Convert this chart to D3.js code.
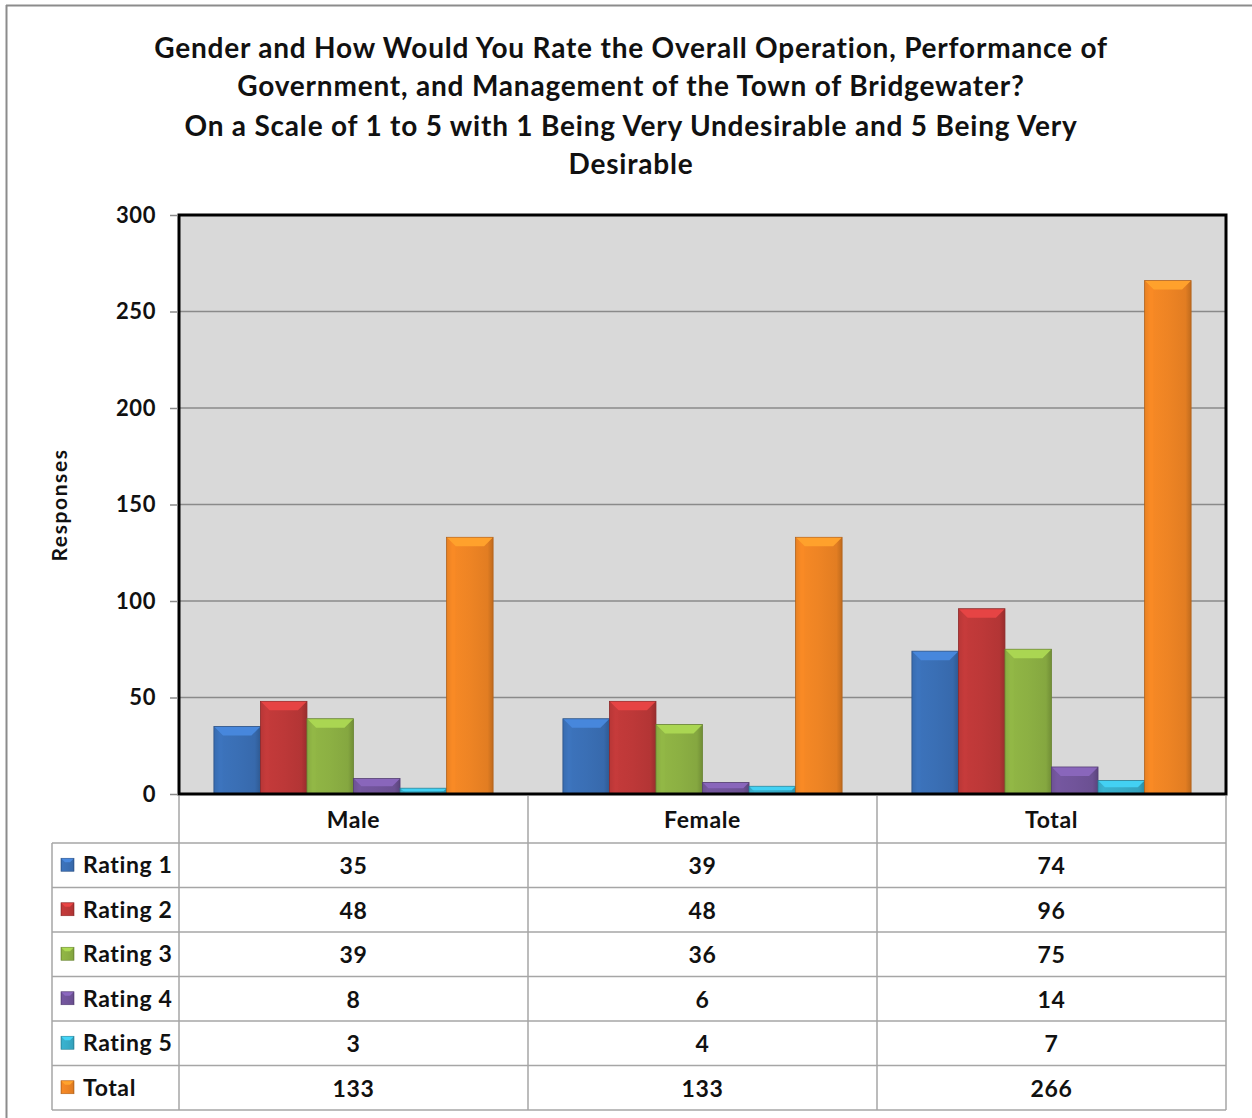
<!DOCTYPE html>
<html><head><meta charset="utf-8">
<script src="https://cdn.jsdelivr.net/npm/d3@7"></script>
<style>html,body{margin:0;padding:0;background:#fff;}svg{display:block;}</style>
</head><body>
<svg id="chart" width="1252" height="1118"></svg>
<script>
const titleLines = [
  "Gender and How Would You Rate the Overall Operation, Performance of",
  "Government, and Management of the Town of Bridgewater?",
  "On a Scale of 1 to 5 with 1 Being Very Undesirable and 5 Being Very",
  "Desirable"
];
const categories = ["Male", "Female", "Total"];
const seriesNames = ["Rating 1", "Rating 2", "Rating 3", "Rating 4", "Rating 5", "Total"];
const rating1 = [35, 39, 74];
const rating2 = [48, 48, 96];
const rating3 = [39, 36, 75];
const rating4 = [8, 6, 14];
const rating5 = [3, 4, 7];
const totals = [133, 133, 266];
const yTicks = [0, 50, 100, 150, 200, 250, 300];
const yLabel = "Responses";
const colors = ["#3a6fb5", "#bd3838", "#8cb043", "#71549a", "#37acc8", "#ee8424"];

const seriesValues = [rating1, rating2, rating3, rating4, rating5, totals];

const svg = d3.select("#chart");
const FONT = "Lato, 'Open Sans', sans-serif";
const L = 179, R = 1226, T = 215, B = 794;

// outer frame
svg.append("line").attr("x1", 6.5).attr("x2", 6.5).attr("y1", 5).attr("y2", 1118).attr("stroke", "#8c8c8c").attr("stroke-width", 2);
svg.append("line").attr("x1", 6).attr("x2", 1252).attr("y1", 5.5).attr("y2", 5.5).attr("stroke", "#8c8c8c").attr("stroke-width", 2);

// title
svg.append("g").selectAll("text").data(titleLines).join("text")
  .attr("x", 631).attr("y", (d, i) => [47, 85, 125, 163][i])
  .attr("text-anchor", "middle").attr("dominant-baseline", "central")
  .attr("font-family", FONT).attr("font-weight", "bold").attr("font-size", 28)
  .attr("letter-spacing", 0.8)
  .attr("fill", "#111").text(d => d);

const x0 = d3.scaleBand().domain(categories).range([L, R]).paddingInner(0).paddingOuter(0);
const x1 = d3.scaleBand().domain(seriesNames)
  .range([x0.bandwidth() * 0.1, x0.bandwidth() * 0.9]).padding(0);
const y = d3.scaleLinear().domain([0, 300]).range([B, T]);

// plot background
svg.append("rect").attr("x", L).attr("y", T).attr("width", R - L).attr("height", B - T).attr("fill", "#d9d9d9");

// gridlines
svg.append("g").selectAll("line").data(yTicks.filter(d => d > 0)).join("line")
  .attr("x1", L).attr("x2", R).attr("y1", d => y(d)).attr("y2", d => y(d))
  .attr("stroke", "#8a8a8a").attr("stroke-width", 1.5);

// gradients
const defs = svg.append("defs");
colors.forEach((c, i) => {
  const g = defs.append("linearGradient").attr("id", "grad" + i).attr("x1", "0").attr("x2", "1").attr("y1", "0").attr("y2", "0");
  const base = d3.color(c);
  g.append("stop").attr("offset", "0%").attr("stop-color", base.darker(0.35));
  g.append("stop").attr("offset", "12%").attr("stop-color", base.brighter(0.1));
  g.append("stop").attr("offset", "50%").attr("stop-color", base);
  g.append("stop").attr("offset", "88%").attr("stop-color", base.darker(0.15));
  g.append("stop").attr("offset", "100%").attr("stop-color", base.darker(0.6));
});

// bars
const flat = [];
categories.forEach((cat, ci) => {
  seriesNames.forEach((s, si) => flat.push({cat, s, si, v: seriesValues[si][ci]}));
});
const barG = svg.append("g").selectAll("g").data(flat).join("g")
  .attr("transform", d => `translate(${x0(d.cat) + x1(d.s)},0)`);
const bw = x1.bandwidth();
barG.append("rect")
  .attr("x", 0).attr("width", bw)
  .attr("y", d => y(d.v)).attr("height", d => B - y(d.v))
  .attr("fill", d => `url(#grad${d.si})`)
  .attr("stroke", d => d3.color(colors[d.si]).darker(0.8)).attr("stroke-width", 0.8);
barG.append("path")
  .attr("d", d => {
    const top = y(d.v), h = Math.min(9, (B - top) / 2), ins = Math.min(9, h);
    return `M0.5,${top + 0.5} L${bw - 0.5},${top + 0.5} L${bw - ins},${top + h} L${ins},${top + h} Z`;
  })
  .attr("fill", d => d3.color(colors[d.si]).brighter(0.55));
barG.append("path")
  .attr("d", d => {
    const top = y(d.v), h = Math.min(9, (B - top) / 2), ins = Math.min(9, h);
    return `M0.5,${top + 0.5} L${ins},${top + h} L${ins},${B - 1} L0.5,${B - 1} Z`;
  })
  .attr("fill", d => d3.color(colors[d.si]).brighter(0.15)).attr("opacity", 0.5);

// frame
svg.append("path").attr("d", `M${L},${B} L${L},${T} L${R},${T} L${R},${B} Z`)
  .attr("fill", "none").attr("stroke", "#000").attr("stroke-width", 3);

// y axis ticks & labels
const yAxis = d3.axisLeft(y).tickValues(yTicks).tickSize(8).tickPadding(14);
const ax = svg.append("g").attr("transform", `translate(${L - 1},0)`).call(yAxis);
ax.select(".domain").remove();
ax.selectAll(".tick line").attr("stroke", "#8a8a8a").attr("stroke-width", 1.5);
ax.selectAll(".tick text").attr("font-family", FONT).attr("font-weight", "bold").attr("font-size", 22)
  .attr("letter-spacing", 0.6).attr("fill", "#111");

svg.append("text").attr("transform", "translate(58,505) rotate(-90)")
  .attr("text-anchor", "middle").attr("dominant-baseline", "central")
  .attr("font-family", FONT).attr("font-weight", "bold").attr("font-size", 21)
  .attr("letter-spacing", 1.6).attr("fill", "#111").text(yLabel);

// data table
const headerTop = B, headerBot = 843, tableBot = 1110, legL = 52;
const rowH = (tableBot - headerBot) / seriesNames.length;
const rowY = i => headerBot + i * rowH;
const tbl = svg.append("g");
const gridC = "#a6a6a6";
tbl.selectAll("line.h").data(d3.range(seriesNames.length + 1)).join("line").attr("class", "h")
  .attr("x1", legL).attr("x2", R).attr("y1", i => rowY(i)).attr("y2", i => rowY(i))
  .attr("stroke", gridC).attr("stroke-width", 1.5);
const colEdges = [L, x0("Female"), x0("Total"), R];
tbl.selectAll("line.v").data(colEdges).join("line").attr("class", "v")
  .attr("x1", d => d).attr("x2", d => d).attr("y1", headerTop + 2).attr("y2", tableBot)
  .attr("stroke", gridC).attr("stroke-width", 1.5);
tbl.append("line").attr("x1", legL).attr("x2", legL).attr("y1", headerBot).attr("y2", tableBot)
  .attr("stroke", gridC).attr("stroke-width", 1.5);
const cellFont = 23;
tbl.selectAll("text.hd").data(categories).join("text").attr("class", "hd")
  .attr("x", d => x0(d) + x0.bandwidth() / 2).attr("y", (headerTop + headerBot) / 2)
  .attr("text-anchor", "middle").attr("dominant-baseline", "central")
  .attr("font-family", FONT).attr("font-weight", "bold").attr("font-size", cellFont)
  .attr("letter-spacing", 0.6).attr("fill", "#111").text(d => d);
seriesNames.forEach((s, si) => {
  const cy = rowY(si) + rowH / 2;
  const key = tbl.append("g").attr("transform", `translate(61,${cy - 7})`);
  key.append("rect").attr("width", 13).attr("height", 13).attr("fill", `url(#grad${si})`)
    .attr("stroke", d3.color(colors[si]).darker(0.8)).attr("stroke-width", 0.6);
  key.append("path").attr("d", "M0.5,0.5 L12.5,0.5 L9,4 L4,4 Z").attr("fill", d3.color(colors[si]).brighter(0.6));
  tbl.append("text").attr("x", 83).attr("y", cy - 1)
    .attr("dominant-baseline", "central")
    .attr("font-family", FONT).attr("font-weight", "bold").attr("font-size", cellFont)
    .attr("letter-spacing", 0.6).attr("fill", "#111").text(s);
  tbl.selectAll(null).data(categories).join("text")
    .attr("x", d => x0(d) + x0.bandwidth() / 2).attr("y", cy)
    .attr("text-anchor", "middle").attr("dominant-baseline", "central")
    .attr("font-family", FONT).attr("font-weight", "bold").attr("font-size", cellFont)
    .attr("letter-spacing", 0.6).attr("fill", "#111")
    .text((d, ci) => seriesValues[si][ci]);
});
</script>
</body></html>
